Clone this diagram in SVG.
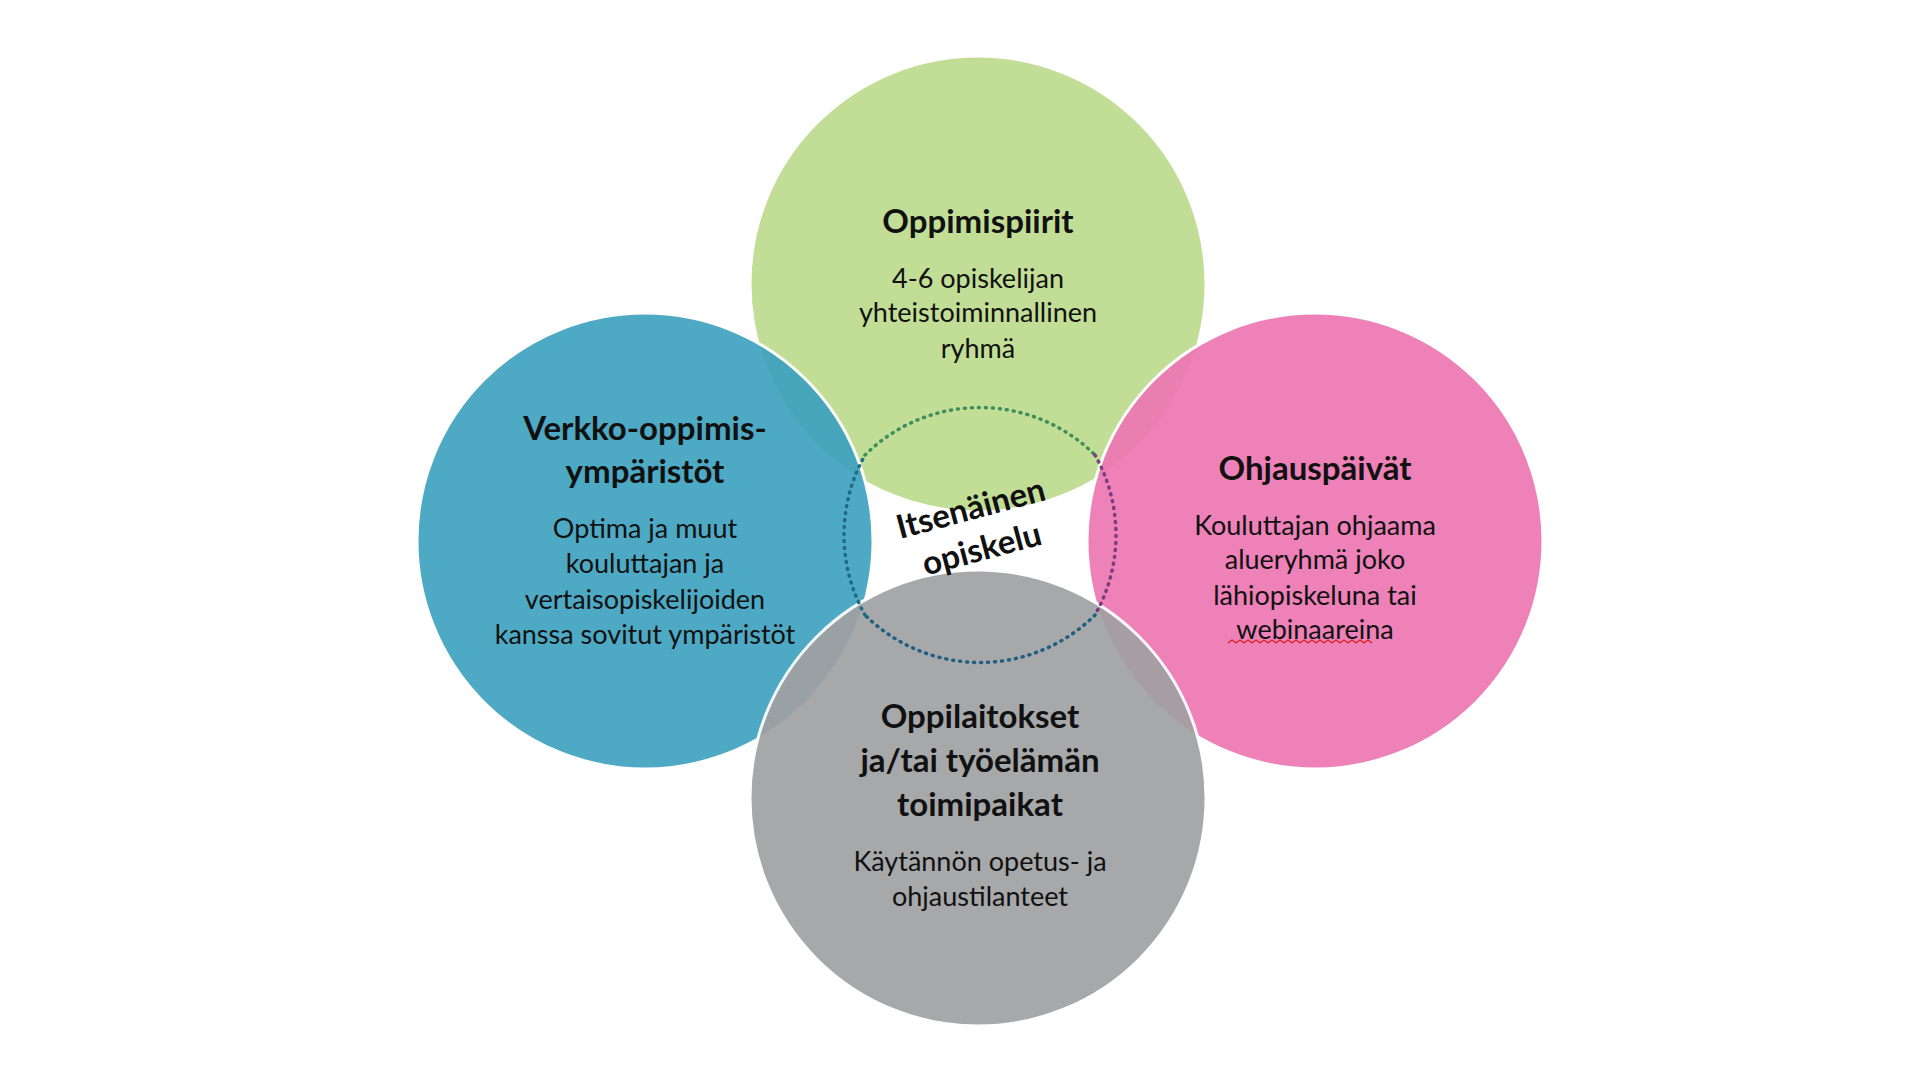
<svg xmlns="http://www.w3.org/2000/svg" width="1920" height="1080" viewBox="0 0 1920 1080">
<style>
.c{stroke:#fff;stroke-width:3;opacity:0.92}
.t{font-family:Lato,"Open Sans",sans-serif;font-weight:bold;font-size:33px;fill:#111;text-anchor:middle;dominant-baseline:central}
.b{font-family:Lato,"Open Sans",sans-serif;font-size:27px;fill:#111;text-anchor:middle;dominant-baseline:central}
.d{fill:none;stroke-width:3.5;stroke-dasharray:1 6;stroke-linecap:round}
</style>
<rect width="1920" height="1080" fill="#fff"/>
<g id="green"><circle class="c" cx="978" cy="284" r="228" fill="#BDDC8E"/></g>
<g id="blue"><circle class="c" cx="645" cy="541" r="228" fill="#3EA2C0"/></g>
<g id="pink"><circle class="c" cx="1315" cy="541" r="228" fill="#EC77B3"/></g>
<g id="gray"><circle class="c" cx="978" cy="798" r="228" fill="#A0A1A3"/></g>
<g id="connectors">
<path class="d" stroke="#3E8F5A" d="M865,455 A163,163 0 0 1 1095,455"/>
<path class="d" stroke="#7A3D80" d="M1095,455 A163,163 0 0 1 1095,615"/>
<path class="d" stroke="#1E5F82" d="M1095,615 A163,163 0 0 1 865,615"/>
<path class="d" stroke="#1E6C8A" d="M865,615 A163,163 0 0 1 865,455"/>
</g>
<g id="center"><text class="t" transform="translate(976,528) rotate(-15)"><tspan x="0" y="-22">Itsenäinen</tspan><tspan x="0" y="20">opiskelu</tspan></text></g>
<g id="t-green"><text class="t" x="978" y="220">Oppimispiirit</text>
<text class="b" x="978" y="277">4-6 opiskelijan</text><text class="b" x="978" y="311">yhteistoiminnallinen</text><text class="b" x="978" y="347">ryhmä</text></g>
<g id="t-blue"><text class="t" x="645" y="427">Verkko-oppimis-</text><text class="t" x="645" y="470">ympäristöt</text>
<text class="b" x="645" y="527">Optima ja muut</text><text class="b" x="645" y="562">kouluttajan ja</text><text class="b" x="645" y="598">vertaisopiskelijoiden</text><text class="b" x="645" y="633">kanssa sovitut ympäristöt</text></g>
<g id="t-pink"><text class="t" x="1315" y="467">Ohjauspäivät</text>
<text class="b" x="1315" y="524">Kouluttajan ohjaama</text><text class="b" x="1315" y="558">alueryhmä joko</text><text class="b" x="1315" y="594">lähiopiskeluna tai</text><text class="b" x="1315" y="628">webinaareina</text>
<path d="M1228,643 l4,-3 4,3 4,-3 4,3 4,-3 4,3 4,-3 4,3 4,-3 4,3 4,-3 4,3 4,-3 4,3 4,-3 4,3 4,-3 4,3 4,-3 4,3 4,-3 4,3 4,-3 4,3 4,-3 4,3 4,-3 4,3 4,-3 4,3 4,-3 4,3 4,-3 4,3 4,-3 4,3" fill="none" stroke="#e02020" stroke-width="1.3"/></g>
<g id="t-gray"><text class="t" x="980" y="715">Oppilaitokset</text><text class="t" x="980" y="759">ja/tai työelämän</text><text class="t" x="980" y="803">toimipaikat</text>
<text class="b" x="980" y="860">Käytännön opetus- ja</text><text class="b" x="980" y="895">ohjaustilanteet</text></g>
</svg>
